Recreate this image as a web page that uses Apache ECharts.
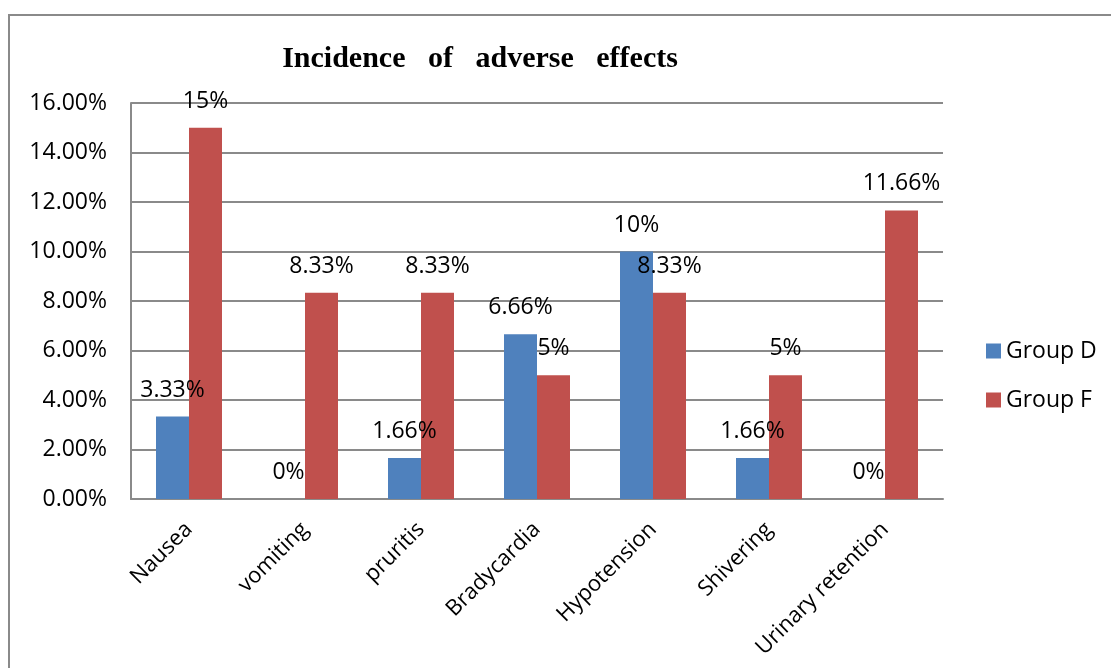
<!DOCTYPE html>
<html>
<head>
<meta charset="utf-8">
<script src="https://cdn.jsdelivr.net/npm/echarts@6/dist/echarts.min.js"></script>
<style>
html,body{margin:0;padding:0;background:#fff;}
#chart{width:1111px;height:668px;}
</style>
</head>
<body>
<div id="chart"></div>
<script>
var categories = ['Nausea', 'vomiting', 'pruritis', 'Bradycardia', 'Hypotension', 'Shivering', 'Urinary retention'];
var groupD = [3.33, 0, 1.66, 6.66, 10, 1.66, 0];
var groupF = [15, 8.33, 8.33, 5, 8.33, 5, 11.66];
var labelsD = ['3.33%', '0%', '1.66%', '6.66%', '10%', '1.66%', '0%'];
var labelsF = ['15%', '8.33%', '8.33%', '5%', '8.33%', '5%', '11.66%'];
var yTicks = [0, 2, 4, 6, 8, 10, 12, 14, 16];

var FONT = '"Open Sans", sans-serif';
var chart = echarts.init(document.getElementById('chart'), null, {renderer: 'canvas'});

function labelCfg(texts) {
  return {
    show: true,
    position: 'top',
    distance: 15,
    color: '#000',
    fontFamily: FONT,
    fontSize: 23,
    formatter: function (p) { return texts[p.dataIndex]; }
  };
}

chart.setOption({
  animation: false,
  backgroundColor: '#fff',
  graphic: [
    {
      type: 'rect',
      shape: {x: 9, y: 15, width: 1200, height: 700},
      style: {fill: 'none', stroke: '#8a8a8a', lineWidth: 2},
      z: 0
    },
    {
      type: 'text',
      x: 480, y: 59,
      style: {
        text: 'Incidence   of   adverse   effects',
        fontFamily: '"Liberation Serif", "Times New Roman", serif',
        fontWeight: 'bold',
        fontSize: 30,
        fill: '#000',
        textAlign: 'center',
        textVerticalAlign: 'middle'
      }
    }
  ],
  legend: {
    orient: 'vertical',
    left: 986,
    top: 339,
    padding: 0,
    itemWidth: 15,
    itemHeight: 15,
    itemGap: 25,
    icon: 'rect',
    textStyle: {fontFamily: FONT, fontSize: 23, color: '#000', lineHeight: 24},
    data: ['Group D', 'Group F']
  },
  grid: {left: 131, right: 168, top: 103, bottom: 169, containLabel: false},
  xAxis: {
    type: 'category',
    data: categories,
    axisLine: {show: true, lineStyle: {color: '#8a8a8a', width: 2}},
    axisTick: {show: false},
    axisLabel: {
      interval: 0,
      rotate: 45,
      margin: 27,
      fontFamily: FONT,
      fontSize: 22,
      color: '#000'
    }
  },
  yAxis: {
    type: 'value',
    min: 0,
    max: 16,
    interval: 2,
    axisLine: {show: true, lineStyle: {color: '#8a8a8a', width: 2}},
    axisTick: {show: false},
    splitLine: {show: true, lineStyle: {color: '#8a8a8a', width: 2}},
    axisLabel: {
      margin: 24,
      fontFamily: FONT,
      fontSize: 23,
      color: '#000',
      formatter: function (v) { return v.toFixed(2) + '%'; }
    }
  },
  series: [
    {
      name: 'Group D',
      type: 'bar',
      data: groupD,
      barWidth: 33,
      barGap: '0%',
      itemStyle: {color: '#4F81BD'},
      label: labelCfg(labelsD)
    },
    {
      name: 'Group F',
      type: 'bar',
      data: groupF,
      barWidth: 33,
      barGap: '0%',
      itemStyle: {color: '#C0504D'},
      label: labelCfg(labelsF)
    }
  ]
});
</script>
</body>
</html>
